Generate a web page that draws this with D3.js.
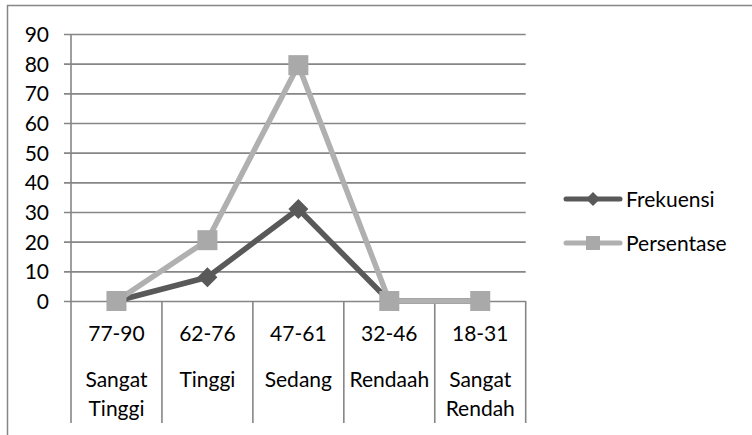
<!DOCTYPE html>
<html>
<head>
<meta charset="utf-8">
<script src="https://cdn.jsdelivr.net/npm/d3@7"></script>
<style>
  html, body { margin: 0; padding: 0; background: #fff; }
  svg { display: block; }
  text { font-family: "Lato", "Liberation Sans", sans-serif; fill: #000; }
</style>
</head>
<body>
<svg id="chart" width="752" height="435"></svg>
<script>
// ---- data ----
const ranges = ["77-90", "62-76", "47-61", "32-46", "18-31"];
const levels = [["Sangat", "Tinggi"], ["Tinggi"], ["Sedang"], ["Rendaah"], ["Sangat", "Rendah"]];
const frekuensi = [0, 8, 31, 0, 0];
const persentase = [0, 20.5, 79.5, 0, 0];
const yTicks = [0, 10, 20, 30, 40, 50, 60, 70, 80, 90];
const seriesNames = ["Frekuensi", "Persentase"];

const svg = d3.select("#chart");
const FONT = 21;
const gridColor = "#868686";
const darkColor = "#595959";
const lightColor = "#a9a9a9";
const lightLine = "#b0b0b0";

// outer border (top + left visible)
svg.append("path")
  .attr("d", "M7.5,440 L7.5,5.5 L760,5.5")
  .attr("fill", "none").attr("stroke", gridColor).attr("stroke-width", 1.5);

const x = d3.scaleBand().domain(ranges).range([71, 525.7]).padding(0);
const y = d3.scaleLinear().domain([0, 90]).range([301, 34]);
const cx = d => x(d) + x.bandwidth() / 2;

// gridlines
const yAxis = d3.axisLeft(y).tickValues(yTicks).tickSize(-(525.7 - 71)).tickSizeOuter(0).tickPadding(0);
const gy = svg.append("g").attr("transform", "translate(71,0)").call(yAxis);
gy.select(".domain").remove();
gy.selectAll(".tick line").attr("stroke", gridColor).attr("stroke-width", 1.6).attr("x1", -7);
gy.selectAll(".tick text").attr("x", -22).attr("dy", "0.36em")
  .style("font-size", FONT + "px").style("font-family", "Lato, 'Liberation Sans', sans-serif").attr("fill", "#000");

// vertical axis line
svg.append("line").attr("x1", 71).attr("x2", 71).attr("y1", y(90)).attr("y2", 423)
  .attr("stroke", gridColor).attr("stroke-width", 1.6);

// category separators
const bounds = ranges.map(d => x(d)).concat([x(ranges[ranges.length - 1]) + x.bandwidth()]);
svg.selectAll("line.sep").data(bounds.slice(1)).enter().append("line")
  .attr("class", "sep")
  .attr("x1", d => d).attr("x2", d => d).attr("y1", y(0)).attr("y2", 423)
  .attr("stroke", gridColor).attr("stroke-width", 1.6);

// category labels
svg.selectAll("text.range").data(ranges).enter().append("text")
  .attr("class", "range")
  .attr("x", d => cx(d)).attr("y", 333).attr("dy", "0.36em")
  .attr("text-anchor", "middle").style("font-size", FONT + "px").text(d => d);

ranges.forEach((r, i) => {
  levels[i].forEach((t, j) => {
    svg.append("text")
      .attr("x", cx(r)).attr("y", 379 + j * 29).attr("dy", "0.36em")
      .attr("text-anchor", "middle").style("font-size", FONT + "px").text(t);
  });
});

// lines
const line = d3.line().x((d, i) => cx(ranges[i])).y(d => y(d));

function diamond(g, px, py, s, color) {
  g.append("path").attr("d", `M${px},${py - s} L${px + s},${py} L${px},${py + s} L${px - s},${py} Z`).attr("fill", color);
}
function square(g, px, py, s, color) {
  g.append("rect").attr("x", px - s).attr("y", py - s).attr("width", 2 * s).attr("height", 2 * s).attr("fill", color);
}

const g1 = svg.append("g");
g1.append("path").datum(frekuensi).attr("d", line).attr("fill", "none")
  .attr("stroke", darkColor).attr("stroke-width", 5.5).attr("stroke-linejoin", "round").attr("stroke-linecap", "round");
frekuensi.forEach((v, i) => diamond(g1, cx(ranges[i]), y(v), 10, darkColor));

const g2 = svg.append("g");
g2.append("path").datum(persentase).attr("d", line).attr("fill", "none")
  .attr("stroke", lightLine).attr("stroke-width", 5.5).attr("stroke-linejoin", "round").attr("stroke-linecap", "round");
persentase.forEach((v, i) => square(g2, cx(ranges[i]), y(v), 10, lightColor));

// legend
const legend = svg.append("g");
const legY = [199, 243];
seriesNames.forEach((name, i) => {
  const col = i === 0 ? darkColor : lightLine;
  legend.append("line").attr("x1", 566).attr("x2", 620).attr("y1", legY[i]).attr("y2", legY[i])
    .attr("stroke", col).attr("stroke-width", 5).attr("stroke-linecap", "round");
  if (i === 0) diamond(legend, 593, legY[i], 7, darkColor);
  else square(legend, 593, legY[i], 7, lightColor);
  legend.append("text").attr("x", 626).attr("y", legY[i]).attr("dy", "0.36em")
    .style("font-size", FONT + "px").text(name);
});
</script>
</body>
</html>
